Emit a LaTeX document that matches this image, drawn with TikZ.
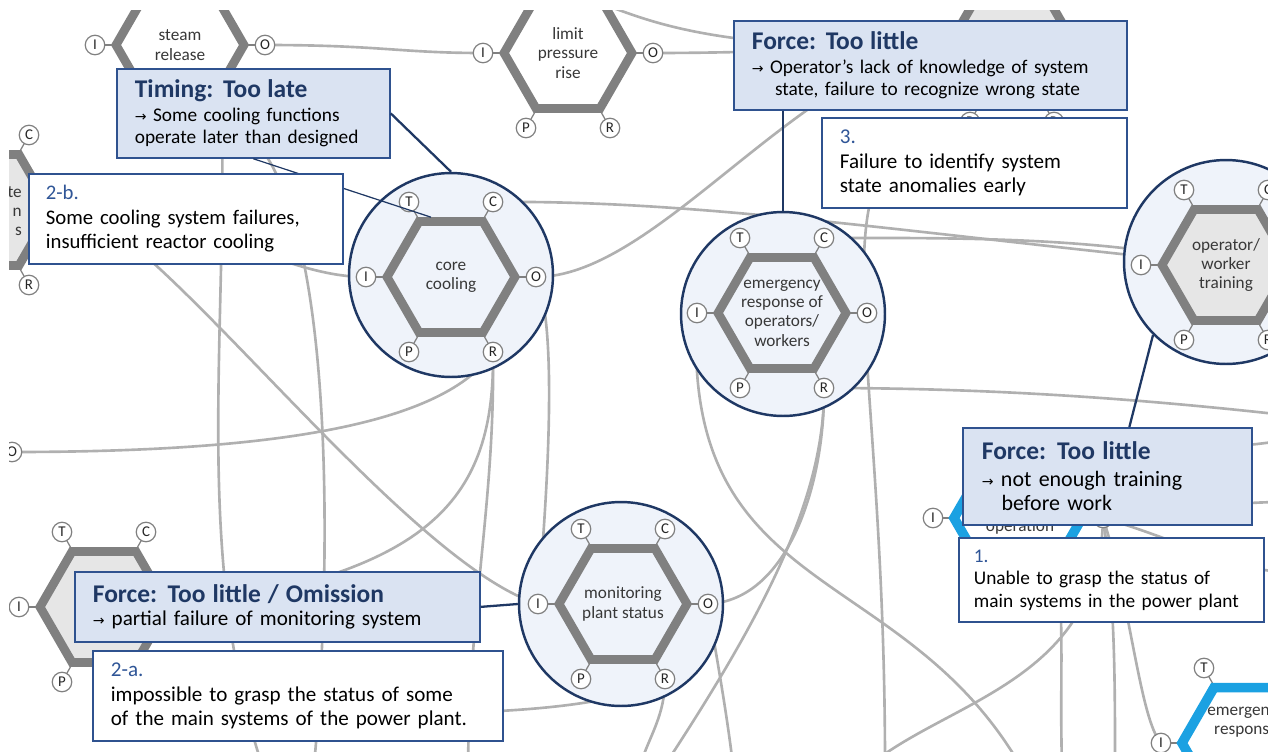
\documentclass[tikz,border=0pt]{standalone}
\usepackage{fontspec}
\setmainfont{Carlito}
\newfontfamily\arrowfont{DejaVu Sans}
\usetikzlibrary{shapes.geometric}
\usepackage{xcolor}

\definecolor{navy}{RGB}{31,56,100}
\definecolor{boxedge}{RGB}{47,82,143}
\definecolor{boxfill}{RGB}{218,227,242}
\definecolor{numblue}{RGB}{47,85,151}
\definecolor{ringfill}{RGB}{239,243,250}
\definecolor{hexgray}{RGB}{128,128,128}
\definecolor{hexlight}{RGB}{230,230,230}
\definecolor{hexblue}{RGB}{27,161,226}
\definecolor{meshgray}{RGB}{176,176,176}

\newcommand\tarrow{{\arrowfont\fontsize{8}{8}\selectfont →}}
\newcommand\ttl[1]{{\fontsize{14.5}{16}\selectfont\bfseries\color{navy}#1}}
\newcommand\numlbl[1]{{\color{numblue}#1}}

\begin{document}
\begin{tikzpicture}[x=0.02cm, y=-0.02cm,
  flow/.style={meshgray, line width=1.5pt},
  stub/.style={hexgray, line width=0.7pt},
  ring/.style={circle, draw=navy, line width=1.4pt, fill=ringfill, inner sep=0pt, minimum size=4.08cm},
  hexa/.style={regular polygon, regular polygon sides=6, draw=hexgray, line width=5pt, fill=white, inner sep=0pt, minimum size=2.56cm},
  bluehex/.style={draw=hexblue, line width=5.5pt},
  hextext/.style={align=center, text=black!78, font=\fontsize{9.8}{11}\selectfont},
  port/.style={circle, draw=hexgray, line width=0.7pt, fill=white, inner sep=0pt, minimum size=0.39cm, text=black!85, font=\fontsize{8.5}{8.5}\selectfont},
  callout/.style={navy, line width=1.3pt},
  forcebox/.style={draw=boxedge, line width=1pt, fill=boxfill, anchor=north west, align=left, inner ysep=2pt, font=\fontsize{11}{12.5}\selectfont},
  notebox/.style={draw=boxedge, line width=1pt, fill=white, anchor=north west, align=left, inner ysep=2pt, font=\fontsize{12}{14}\selectfont}]
% function centre and its six ports
\newcommand\fnpos[3]{%
  \coordinate (#1) at (#2,#3);
  \foreach \p/\dx/\dy in {T/-42/-75,C/42/-75,I/-85/0,O/85/0,P/-42/75,R/42/75}
    \coordinate (#1-\p) at (#2+\dx,#3+\dy);
}
% hexagon, stubs and the port circles that show
\newcommand\fndraw[4]{%
  \foreach \p in {T,C,I,O,P,R} \draw[stub] (#1) -- (#1-\p);
  \node[hexa,#2] (#1-hex) at (#1) {};
  \node[hextext] (#1-txt) at (#1) {#3};
  \foreach \p in {#4} \node[port] (#1-\p-p) at (#1-\p) {\p};
}

\useasboundingbox (0,0) rectangle (1268,751);
\begin{scope}
\clip (9,10) rectangle (1268,751);

% functions
\fnpos{steam}{180}{45}
\fnpos{press}{568}{53}
\fnpos{upper}{1012}{47}
\fnpos{west}{-13}{210}
\fnpos{far}{-73}{452}
\fnpos{core}{451}{277}
\fnpos{emerg}{782}{313}
\fnpos{train}{1226}{265}
\fnpos{monit}{623}{604}
\fnpos{afn}{104}{607}
\fnpos{oper}{1018}{518}
\fnpos{decis}{1246}{743}

% loose ends outside the frame
\coordinate (top-in) at (590,0);
\coordinate (bot-a) at (262,765);
\coordinate (bot-b) at (314,765);
\coordinate (bot-c) at (468,765);
\coordinate (bot-d) at (640,765);
\coordinate (bot-e) at (733,765);
\coordinate (bot-f) at (665,765);
\coordinate (bot-g) at (1020,765);
\coordinate (bot-h) at (885,765);
\coordinate (bot-i) at (1062,765);
\coordinate (bot-j) at (1115,765);
\coordinate (bot-k) at (870,765);
\coordinate (east-a) at (1285,415);
\coordinate (east-b) at (1285,440);
\coordinate (east-c) at (1285,502);
\coordinate (east-d) at (1285,572);

% couplings
\draw[flow] (steam-O) .. controls (380,45) and (400,53) .. (press-I);
\draw[flow] (press-O) .. controls (760,53) and (840,48) .. (upper-I);
\draw[flow] (top-in) .. controls (640,15) and (690,50) .. (upper-I);
\draw[flow] (core-O) .. controls (650,277) and (780,90) .. (upper-I);
\draw[flow] (core-C) .. controls (700,200) and (900,232) .. (train);
\draw[flow] (emerg-C) .. controls (950,238) and (1100,236) .. (train);
\draw[flow] (west-O) .. controls (200,210) and (280,277) .. (core-I);
\draw[flow] (far-O) .. controls (250,452) and (440,430) .. (core-R);
\draw[flow] (steam-R) .. controls (226,350) and (195,560) .. (bot-a);
\draw[flow] (steam-R) .. controls (345,150) and (330,600) .. (bot-b);
\draw[flow] (west-O) .. controls (150,215) and (400,560) .. (monit-I);
\draw[flow] (core-R) .. controls (495,500) and (430,570) .. (afn-O);
\draw[flow] (core-R) .. controls (495,500) and (470,600) .. (bot-c);
\draw[flow] (core-O) .. controls (560,330) and (545,520) .. (monit-I);
\draw[flow] (afn-R) .. controls (300,725) and (600,722) .. (monit-R);
\draw[flow] (monit-R) .. controls (665,715) and (650,735) .. (bot-d);
\draw[flow] (monit-O) .. controls (790,600) and (825,480) .. (emerg-R);
\draw[flow] (monit-O) .. controls (715,650) and (725,700) .. (bot-e);
\draw[flow] (emerg-R) .. controls (825,500) and (760,620) .. (bot-f);
\draw[flow] (emerg-R) .. controls (1000,388) and (1150,400) .. (east-a);
\draw[flow] (emerg-I) .. controls (680,600) and (900,560) .. (bot-g);
\draw[flow] (upper-P) .. controls (800,140) and (885,300) .. (bot-h);
\draw[flow] (oper-R) .. controls (1063,650) and (1060,700) .. (bot-i);
\draw[flow] (oper-O) .. controls (1115,600) and (1115,680) .. (bot-j);
\draw[flow] (oper-O) .. controls (1130,600) and (1140,720) .. (decis-I);
\draw[flow] (oper-O) .. controls (1100,680) and (950,700) .. (bot-k);
\draw[flow] (oper-C) .. controls (1150,450) and (1230,450) .. (east-b);
\draw[flow] (oper-O) .. controls (1180,510) and (1230,502) .. (east-c);
\draw[flow] (oper-O) .. controls (1180,540) and (1230,570) .. (east-d);

% highlighted functions
\node[ring] (core-ring) at (451,275) {};
\node[ring] (emerg-ring) at (783,314) {};
\node[ring] (train-ring) at (1226,262) {};
\node[ring] (monit-ring) at (621,604) {};

\fndraw{steam}{}{steam\\release}{I,O}
\fndraw{press}{}{limit\\pressure\\rise}{I,O,P,R}
\fndraw{upper}{fill=hexlight}{}{P,R}
\fndraw{west}{fill=hexlight}{}{C,R}
\fndraw{far}{fill=hexlight}{}{O}
\fndraw{core}{fill=ringfill}{core\\cooling}{T,C,I,O,P,R}
\fndraw{emerg}{fill=ringfill}{emergency\\response of\\operators/\\workers}{T,C,I,O,P,R}
\fndraw{train}{fill=hexlight}{operator/\\worker\\training}{T,C,I,P,R}
\fndraw{monit}{fill=ringfill}{monitoring\\plant status}{T,C,I,O,P,R}
\fndraw{afn}{fill=hexlight}{}{T,C,I,P}
\fndraw{oper}{bluehex}{}{I,O}
\fndraw{decis}{bluehex}{}{T,I}
\node[hextext, anchor=east, align=right] (west-lbl) at (28,211) {te\\n\\s};
\node[hextext] (oper-lbl) at (1020,527) {operation};
\node[hextext] (decis-lbl) at (1246,722) {emergency\\response};

% variability boxes
\node[forcebox, text width=4.74cm, inner xsep=0.36cm, minimum height=1.78cm] (timing) at (116,68)
  {\ttl{Timing: Too late}\\[1pt] \tarrow\ Some cooling functions\\ operate later than designed};
\node[forcebox, text width=7.14cm, inner xsep=0.36cm, minimum height=1.78cm] (forcetop) at (733,20)
  {\ttl{Force: Too little}\\[1pt] \tarrow\ Operator's lack of knowledge of system\\ \hspace*{1.2em}state, failure to recognize wrong state};
\node[forcebox, text width=5.02cm, inner xsep=0.38cm, minimum height=1.94cm, font=\fontsize{12.5}{14}\selectfont] (forceright) at (962,427)
  {\ttl{Force: Too little}\\[1pt] \tarrow\ not enough training\\ \hspace*{0.9em}before work};
\node[forcebox, text width=7.38cm, inner xsep=0.36cm, minimum height=1.4cm, font=\fontsize{12}{13.5}\selectfont] (omission) at (74,571)
  {\ttl{Force: Too little / Omission}\\ \tarrow\ partial failure of monitoring system};

% callout lines
\draw[callout] (timing.east) -- (core-ring.north);
\draw[callout, line width=0.7pt] (timing.south) -- ([xshift=-0.4cm]core-hex.north);
\draw[callout] (forcetop.south -| emerg-ring.north) -- (emerg-ring.north);
\draw[callout] ([xshift=0.44cm]forceright.north) -- (train-ring.south west);
\draw[callout] (omission.east) -- (monit-ring.west);

% outcome notes
\node[notebox, text width=5.6cm, inner xsep=0.34cm, minimum height=1.8cm, font=\fontsize{11.8}{14}\selectfont] (bfail) at (28,173)
  {\numlbl{2-b.}\\ Some cooling system failures,\\ insufficient reactor cooling};
\node[notebox, text width=5.38cm, inner xsep=0.36cm, minimum height=1.8cm] (three) at (821,117)
  {\numlbl{3.}\\ Failure to identify system\\ state anomalies early};
\node[notebox, text width=5.5cm, inner xsep=0.3cm, minimum height=1.68cm, font=\fontsize{11}{12.8}\selectfont] (one) at (958,537)
  {\numlbl{1.}\\ Unable to grasp the status of\\ main systems in the power plant};
\node[notebox, text width=7.48cm, inner xsep=0.36cm, minimum height=1.8cm] (atwo) at (92,650)
  {\numlbl{2-a.}\\ impossible to grasp the status of some\\ of the main systems of the power plant.};
\end{scope}
\end{tikzpicture}
\end{document}
